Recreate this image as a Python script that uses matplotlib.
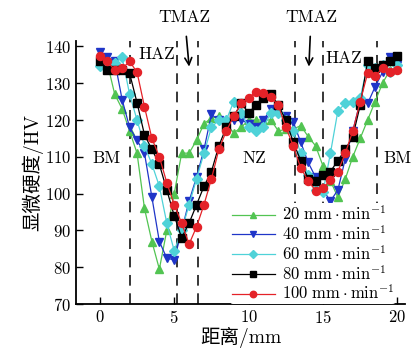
import matplotlib
matplotlib.use("Agg")
import matplotlib.pyplot as plt

plt.rcParams["font.family"] = ["cmr10", "Noto Sans CJK SC"]
plt.rcParams["mathtext.fontset"] = "cm"
plt.rcParams["axes.formatter.use_mathtext"] = True

# distance from weld edge (mm)
distance = [0, 0.5, 1, 1.5, 2, 2.5, 3, 3.5, 4, 4.5, 5, 5.5, 6, 6.5, 7, 7.5, 8, 8.5, 9, 9.5,
            10, 10.5, 11, 11.5, 12, 12.5, 13, 13.5, 14, 14.5, 15, 15.5, 16, 16.5, 17, 17.5,
            18, 18.5, 19, 19.5, 20]

hv_20 = [135.7, 135.5, 127, 123, 117, 111, 96, 87, 79.5, 90, 100, 111, 111, 114.5, 119, 120.5,
         121, 119, 116.5, 118, 120, 120, 120, 120, 117, 117.5, 117.5, 118.5, 115.5, 113, 107.5,
         103.5, 99, 104, 110, 115, 120, 125, 130, 133.5, 134]
hv_40 = [138.5, 137, 136, 125.5, 118, 114.5, 111, 99, 87, 82.5, 82, 90, 98, 104.5, 112, 121.5,
         120, 119, 120, 120, 119, 118, 120, 123, 122.5, 121, 119.5, 114, 108.5, 104.5, 101,
         98, 101, 109.5, 117, 125, 124.5, 129, 133, 137, 135]
hv_60 = [134.7, 135, 135.5, 137, 127, 120, 113, 108, 102, 92, 84.5, 90, 97, 104, 111, 118,
         120, 120, 125, 122, 118, 117, 118, 122, 122, 120, 117, 111, 105, 101, 100.5,
         111, 122.5, 124.5, 125, 126, 135, 134, 135, 133, 135]
hv_80 = [136, 133.5, 133.5, 133.5, 132.7, 124.7, 116, 112, 108, 101, 94, 88, 92, 97, 102, 106,
         113, 118, 121, 124.5, 122, 124, 126, 127, 124, 120, 114, 109, 104, 103.5, 105,
         106, 109, 112, 115.5, 124, 136, 134, 135, 136, 137.5]
hv_100 = [137.5, 136, 133.5, 134, 135.9, 133, 123.6, 115, 110, 103, 97, 92, 86.3, 91, 97, 104,
          112, 117, 121, 124.5, 126, 127.7, 127.3, 126.2, 124, 118, 113, 107, 103.5, 100.8,
          101.6, 103.6, 106, 111, 117, 125, 132.7, 132, 134, 133, 133.6]

speeds = ["20", "40", "60", "80", "100"]
zone_bounds = [2.0, 5.2, 6.6, 13.1, 15.0, 18.6]

series = [
    (hv_20, "#52c452", "^"),
    (hv_40, "#1f35c8", "v"),
    (hv_60, "#4fd2d8", "D"),
    (hv_80, "black", "s"),
    (hv_100, "#e42228", "o"),
]

fig = plt.figure(figsize=(4.11, 3.52), dpi=100)
ax = fig.add_axes([0.185, 0.136, 0.8, 0.748])

for xb in zone_bounds:
    ax.axvline(xb, color="black", lw=1.1, ls=(0, (7, 5)), zorder=1)

for (vals, col, mk), sp in zip(series, speeds):
    ms = 4.8 if mk == "D" else 5.8
    ax.plot(distance, vals, color=col, marker=mk, ms=ms, lw=0.9,
            label=r"$\mathrm{" + sp + r"\ mm\cdot min^{-1}}$", zorder=3)

ax.set_xlim(-1.6, 20.5)
ax.set_ylim(70, 141.5)
ax.set_xticks([0, 5, 10, 15, 20])
ax.set_yticks(range(70, 141, 10))
ax.tick_params(direction="in", length=5, labelsize=12, width=1)
ax.spines["top"].set_visible(False)
ax.spines["right"].set_visible(False)
ax.spines["left"].set_linewidth(1.3)
ax.spines["bottom"].set_linewidth(1.3)

ax.set_xlabel("距离/mm", fontsize=14, labelpad=1)
ax.set_ylabel("显微硬度/HV", fontsize=14, labelpad=1)

fs = 12.5
ax.text(-0.5, 109.5, "BM", fontsize=fs, va="center", ha="left")
ax.text(19.05, 109.5, "BM", fontsize=fs, va="center", ha="left", clip_on=False)
ax.text(10.4, 109.5, "NZ", fontsize=fs, va="center", ha="center")
ax.text(3.8, 137.7, "HAZ", fontsize=fs, va="center", ha="center")
ax.text(16.4, 136.8, "HAZ", fontsize=fs, va="center", ha="center")
for xa, xt in [(6.0, 5.7), (14.05, 14.2)]:
    ax.annotate("TMAZ", xy=(xa, 134.5), xytext=(xt, 147.8), fontsize=fs,
                ha="center", va="center", annotation_clip=False,
                arrowprops=dict(arrowstyle="->", color="black", lw=1.2,
                                shrinkA=6, shrinkB=0))

leg = ax.legend(loc="upper left", bbox_to_anchor=(0.468, 0.385), frameon=True,
                fontsize=12, borderpad=0.1, borderaxespad=0, handlelength=2.6,
                handletextpad=0.4, labelspacing=0.05, markerscale=0.8)
leg.get_frame().set_facecolor("white")
leg.get_frame().set_edgecolor("none")
leg.get_frame().set_alpha(1)
leg.set_zorder(5)

fig.savefig("out.png", dpi=100)
